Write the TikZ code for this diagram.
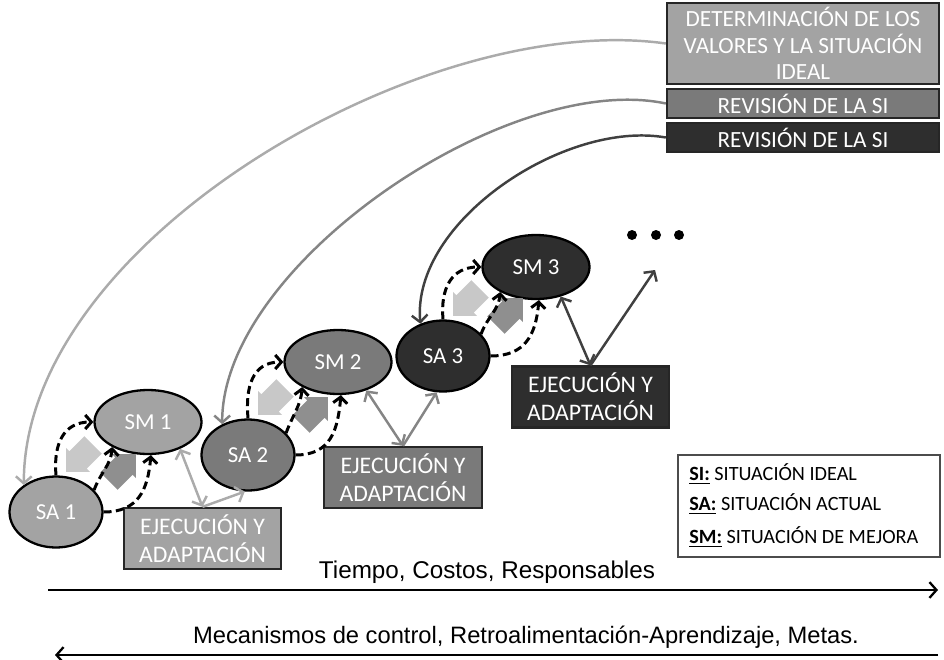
\documentclass[tikz,border=0pt]{standalone}
\usepackage{fontspec}
\setmainfont{Carlito}
\newfontfamily\ejefont{Liberation Sans}
\usetikzlibrary{shapes.geometric,shapes.arrows,arrows.meta}

\definecolor{claro}{HTML}{A3A3A3}
\definecolor{medio}{HTML}{7A7A7A}
\definecolor{oscuro}{HTML}{2E2E2E}
\definecolor{flecha1}{HTML}{ABABAB}
\definecolor{flecha2}{HTML}{858585}
\definecolor{flecha3}{HTML}{404040}
\definecolor{bloqueclaro}{HTML}{C8C8C8}
\definecolor{bloquemedio}{HTML}{8F8F8F}

\tikzset{
  sa/.style={ellipse,draw=black,line width=1.3pt,fill=#1,text=white,inner sep=0pt,
    minimum width=1.86cm,minimum height=1.42cm,font=\fontsize{13}{15}\selectfont},
  sm/.style={sa=#1,minimum width=2.14cm,minimum height=1.28cm},
  caja/.style={draw=black!85,line width=1.3pt,fill=#1,text=white,align=center,inner sep=1pt,
    minimum width=3.15cm,minimum height=1.22cm,font=\fontsize{13.5}{16}\selectfont},
  meta/.style={draw=black!85,line width=1.3pt,fill=#1,text=white,align=center,inner sep=0pt,
    minimum width=5.44cm,font=\fontsize{13.2}{15}\selectfont},
  paso/.style={line width=1.7pt,dash pattern=on 4.5pt off 2.5pt,-{Straight Barb[length=3.5pt,width=8pt]}},
  retro/.style={line width=1.4pt,draw=#1,-{Straight Barb[length=4pt,width=9pt]}},
  ida/.style={line width=1.4pt,draw=#1,{Straight Barb[length=4pt,width=9pt]}-{Straight Barb[length=4pt,width=9pt]}},
  bloque/.style={single arrow,fill=#1,draw=none,inner sep=0.24cm,minimum height=0.76cm,
    single arrow head extend=0.09cm,single arrow head indent=0cm},
  eje/.style={line width=1.3pt,-{Straight Barb[length=4pt,width=9pt]}},
  leyenda/.style={anchor=west,inner sep=0pt,font=\fontsize{11.5}{13}\selectfont},
}

\begin{document}
\begin{tikzpicture}
  \useasboundingbox (0,0) rectangle (18.88,13.18);

  \node[meta=claro,minimum height=1.62cm] (si) at (16.06,12.31) {DETERMINACIÓN DE LOS\\VALORES Y LA SITUACIÓN\\IDEAL};
  \node[meta=medio,minimum height=0.58cm] (rev1) at (16.06,11.11) {REVISIÓN DE LA SI};
  \node[meta=oscuro,minimum height=0.58cm] (rev2) at (16.06,10.43) {REVISIÓN DE LA SI};

  \node[sa=claro] (sa1) at (1.12,2.94) {SA 1};
  \node[sm=claro] (sm1) at (2.96,4.74) {SM 1};
  \node[sa=medio] (sa2) at (4.96,4.08) {SA 2};
  \node[sm=medio] (sm2) at (6.76,5.94) {SM 2};
  \node[sa=oscuro] (sa3) at (8.86,6.06) {SA 3};
  \node[sm=oscuro] (sm3) at (10.72,7.84) {SM 3};

  \node[caja=claro] (ea1) at (4.05,2.41) {EJECUCIÓN Y\\ADAPTACIÓN};
  \node[caja=medio] (ea2) at (8.06,3.63) {EJECUCIÓN Y\\ADAPTACIÓN};
  \node[caja=oscuro] (ea3) at (11.81,5.24) {EJECUCIÓN Y\\ADAPTACIÓN};

  \foreach \i in {1,2,3} {
    \node[bloque=bloqueclaro,rotate=225] (baja\i) at ([shift={(0.56,1.16)}]sa\i) {};
    \node[bloque=bloquemedio,rotate=45] (sube\i) at ([shift={(1.24,0.80)}]sa\i) {};
    \draw[paso] (sa\i.north) to[out=95,in=180,looseness=1.2] (sm\i.west);
    \draw[paso] (sa\i.30) to[out=70,in=-95] (sm\i.215);
    \draw[paso] (sa\i.east) to[out=0,in=-95,looseness=1.2] (sm\i.-85);
  }

  \draw[retro=flecha1] (si.west) to[out=172,in=90,looseness=0.8] (sa1.140);
  \draw[retro=flecha2] (rev1.west) to[out=168,in=90,looseness=0.75] (sa2.130);
  \draw[retro=flecha3] (rev2.west) to[out=170,in=95,looseness=0.85] (sa3.125);

  \draw[ida=flecha1] (sm1.-40) -- (ea1.north);
  \draw[retro=flecha1] (ea1.north) -- (sa2.-95);
  \draw[ida=flecha2] (sm2.-45) -- (ea2.north);
  \draw[retro=flecha2] (ea2.north) -- (sa3.-100);
  \draw[ida=flecha3] (sm3.-50) -- (ea3.north);
  \coordinate (sigue) at (13.10,7.78);
  \draw[retro=flecha3] (ea3.north) -- (sigue);

  \foreach \x [count=\i] in {12.64,13.12,13.58}
    \node[circle,fill=black,inner sep=0pt,minimum size=0.2cm] (punto\i) at (\x,8.48) {};

  \node[draw=black!70,line width=1pt,minimum width=5.24cm,minimum height=2.04cm] (caja) at (16.18,3.06) {};
  \node[leyenda] (lsi) at (13.78,3.70) {\textbf{\underline{SI:}} SITUACIÓN IDEAL};
  \node[leyenda] (lsa) at (13.78,3.10) {\textbf{\underline{SA:}} SITUACIÓN ACTUAL};
  \node[leyenda] (lsm) at (13.78,2.44) {\textbf{\underline{SM:}} SITUACIÓN DE MEJORA};

  \coordinate (t0) at (0.96,1.38);
  \coordinate (t1) at (18.76,1.38);
  \draw[eje] (t0) -- (t1);
  \node[font=\ejefont\fontsize{13.8}{16}\selectfont] (tiempo) at (9.74,1.74) {Tiempo, Costos, Responsables};
  \coordinate (m0) at (18.76,0.08);
  \coordinate (m1) at (1.10,0.08);
  \draw[eje] (m0) -- (m1);
  \node[font=\ejefont\fontsize{13.5}{16}\selectfont] (control) at (10.52,0.44) {Mecanismos de control, Retroalimentación-Aprendizaje, Metas.};
\end{tikzpicture}
\end{document}
